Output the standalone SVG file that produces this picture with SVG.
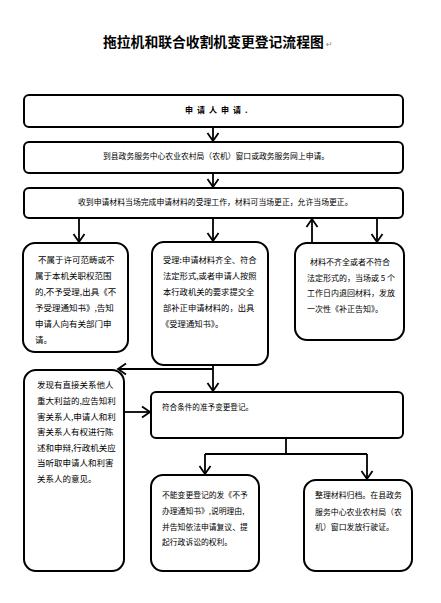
<svg xmlns="http://www.w3.org/2000/svg" width="441" height="603" viewBox="0 0 441 603">
<style>
.box{fill:#fff;stroke:#000;stroke-width:2}
.t{font-family:"Noto Sans CJK SC","Noto Sans",sans-serif;fill:#000}
.c{fill:none;stroke:#000;stroke-width:1.8}
.pm{font-family:"DejaVu Sans",sans-serif;fill:#888;font-size:8px}
</style>
<defs>
<marker id="ah" viewBox="-10 -7 12 14" refX="0" refY="0" markerWidth="12" markerHeight="14" markerUnits="userSpaceOnUse" orient="auto">
<path d="M-8,-5.5 L0,0 L-8,5.5" fill="none" stroke="#000" stroke-width="1.8"/>
</marker>
</defs>
<rect width="441" height="603" fill="#fff"/>
<g id="title">
<text class="t" x="103" y="47" font-size="13.8" font-weight="bold">拖拉机和联合收割机变更登记流程图</text>
<text class="pm" x="326" y="47">↵</text>
</g>
<g id="connectors">
<line class="c" x1="213" y1="127" x2="213" y2="141" marker-end="url(#ah)"/>
<line class="c" x1="213" y1="173" x2="213" y2="187" marker-end="url(#ah)"/>
<line class="c" x1="79" y1="218" x2="79" y2="242" marker-end="url(#ah)"/>
<line class="c" x1="213" y1="218" x2="213" y2="241" marker-end="url(#ah)"/>
<line class="c" x1="312" y1="243" x2="312" y2="219" marker-end="url(#ah)"/>
<line class="c" x1="377" y1="218" x2="377" y2="242" marker-end="url(#ah)"/>
<line class="c" x1="213" y1="365" x2="213" y2="391" marker-end="url(#ah)"/>
<polyline class="c" points="213,369 118,369" marker-end="url(#ah)"/>
<line class="c" x1="123" y1="412" x2="150" y2="412" marker-end="url(#ah)"/>
<polyline class="c" points="286,438 286,454"/>
<line class="c" x1="205" y1="454" x2="367" y2="454"/>
<line class="c" x1="205" y1="454" x2="205" y2="474" marker-end="url(#ah)"/>
<line class="c" x1="367" y1="454" x2="367" y2="479" marker-end="url(#ah)"/>
</g>
<g id="n1">
<rect class="box" x="24" y="95" width="379" height="32" rx="5"/>
<text class="t" x="185" y="113" font-size="8" font-weight="bold" letter-spacing="4">申请人申请.</text>
</g>
<g id="n2">
<rect class="box" x="24" y="142" width="379" height="31" rx="5"/>
<text class="t" x="103" y="159" font-size="7.8">到县政务服务中心农业农村局（农机）窗口或政务服务网上申请。</text>
</g>
<g id="n3">
<rect class="box" x="24" y="188" width="379" height="30" rx="5"/>
<text class="t" x="78" y="205" font-size="7.85">收到申请材料当场完成申请材料的受理工作，材料可当场更正，允许当场更正。</text>
</g>
<g id="nA">
<rect class="box" x="23" y="243" width="105" height="109" rx="12"/>
<text class="t" font-size="8.5">
<tspan x="38" y="263">不属于许可范畴或不</tspan>
<tspan x="35" y="279">属于本机关职权范围</tspan>
<tspan x="35" y="295">的,不予受理,出具《不</tspan>
<tspan x="35" y="311">予受理通知书》,告知</tspan>
<tspan x="35" y="327">申请人向有关部门申</tspan>
<tspan x="35" y="343">请。</tspan>
</text>
</g>
<g id="nB">
<rect class="box" x="152" y="242" width="116" height="123" rx="12"/>
<text class="t" font-size="8.3">
<tspan x="163" y="263">受理:申请材料齐全、符合</tspan>
<tspan x="163" y="279">法定形式,或者申请人按照</tspan>
<tspan x="163" y="295">本行政机关的要求提交全</tspan>
<tspan x="163" y="311">部补正申请材料的，出具</tspan>
<tspan x="161" y="327">《受理通知书》。</tspan>
</text>
</g>
<g id="nC">
<rect class="box" x="295" y="243" width="109" height="97" rx="12"/>
<text class="t" font-size="8">
<tspan x="310" y="265">材料不齐全或者不符合</tspan>
<tspan x="307" y="281">法定形式的，当场或 5 个</tspan>
<tspan x="307" y="296">工作日内退回材料，发放</tspan>
<tspan x="307" y="312">一次性《补正告知》。</tspan>
</text>
</g>
<g id="nD">
<rect class="box" x="24" y="370" width="100" height="201" rx="12"/>
<text class="t" font-size="8.5">
<tspan x="37" y="388">发现有直接关系他人</tspan>
<tspan x="37" y="404">重大利益的,应告知利</tspan>
<tspan x="37" y="420">害关系人,申请人和利</tspan>
<tspan x="37" y="435">害关系人有权进行陈</tspan>
<tspan x="37" y="451">述和申辩,行政机关应</tspan>
<tspan x="37" y="466">当听取申请人和利害</tspan>
<tspan x="37" y="482">关系人的意见。</tspan>
</text>
</g>
<g id="nE">
<rect class="box" x="151" y="392" width="252" height="46" rx="5"/>
<text class="t" x="162" y="410" font-size="7.6">符合条件的准予变更登记。</text>
</g>
<g id="nF">
<rect class="box" x="151" y="475" width="108" height="96" rx="12"/>
<text class="t" font-size="7.8">
<tspan x="162" y="498">不能变更登记的发《不予</tspan>
<tspan x="162" y="514">办理通知书》,说明理由,</tspan>
<tspan x="162" y="530">并告知依法申请复议、提</tspan>
<tspan x="162" y="545">起行政诉讼的权利。</tspan>
</text>
</g>
<g id="nG">
<rect class="box" x="304" y="480" width="108" height="91" rx="12"/>
<text class="t" font-size="7.9">
<tspan x="315" y="498">整理材料归档。在县政务</tspan>
<tspan x="315" y="515">服务中心农业农村局（农</tspan>
<tspan x="315" y="530">机）窗口发放行驶证。</tspan>
</text>
</g>
</svg>
